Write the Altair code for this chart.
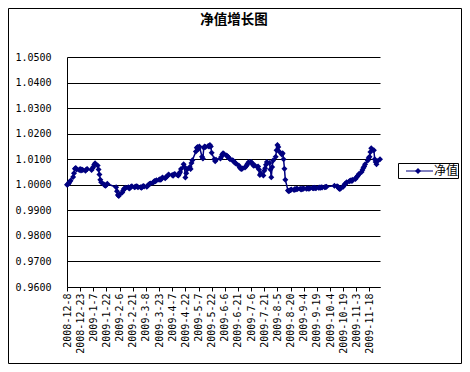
import altair as alt
import pandas as pd

title_text = "净值增长图"
series_name = "净值"

start_date = "2008-12-08"
end_date = "2009-11-30"
holidays = ["2009-01-01", "2009-01-02", "2009-01-26", "2009-01-27", "2009-01-28",
            "2009-01-29", "2009-01-30", "2009-04-06", "2009-05-01", "2009-05-28",
            "2009-05-29", "2009-10-01", "2009-10-02", "2009-10-05", "2009-10-06",
            "2009-10-07", "2009-10-08"]

nav_2008_12 = [1.0000, 1.0002, 1.0005, 1.0012, 1.0016, 1.0030, 1.0045, 1.0063, 1.0066, 1.0060,
               1.0058, 1.0062, 1.0056, 1.0060, 1.0058, 1.0055, 1.0060, 1.0062]
nav_2009_01 = [1.0058, 1.0065, 1.0070, 1.0078, 1.0084, 1.0075, 1.0060, 1.0040, 1.0020, 1.0010,
               1.0002, 0.9998, 0.9996, 1.0000, 1.0004]
nav_2009_02 = [0.9990, 0.9975, 0.9960, 0.9956, 0.9962, 0.9970, 0.9978, 0.9984, 0.9986, 0.9988,
               0.9990, 0.9985, 0.9988, 0.9992, 0.9994, 0.9990, 0.9992, 0.9994, 0.9993, 0.9990]
nav_2009_03 = [0.9990, 0.9988, 0.9992, 0.9995, 0.9993, 0.9992, 0.9996, 1.0000, 1.0003, 1.0005,
               1.0008, 1.0012, 1.0015, 1.0014, 1.0018, 1.0020, 1.0022, 1.0020, 1.0025, 1.0028,
               1.0026, 1.0030]
nav_2009_04 = [1.0032, 1.0036, 1.0040, 1.0038, 1.0035, 1.0040, 1.0042, 1.0038, 1.0036, 1.0043,
               1.0050, 1.0062, 1.0080, 1.0070, 1.0028, 1.0045, 1.0060, 1.0070, 1.0062, 1.0085,
               1.0096]
nav_2009_05 = [1.0130, 1.0145, 1.0148, 1.0140, 1.0150, 1.0110, 1.0103, 1.0145, 1.0150, 1.0148,
               1.0152, 1.0150, 1.0156, 1.0150, 1.0125, 1.0100, 1.0092, 1.0098]
nav_2009_06 = [1.0103, 1.0110, 1.0118, 1.0123, 1.0120, 1.0115, 1.0112, 1.0108, 1.0104, 1.0100,
               1.0096, 1.0092, 1.0088, 1.0085, 1.0082, 1.0075, 1.0068, 1.0064, 1.0062, 1.0064,
               1.0068, 1.0072]
nav_2009_07 = [1.0076, 1.0082, 1.0088, 1.0089, 1.0085, 1.0078, 1.0074, 1.0076, 1.0070, 1.0072,
               1.0060, 1.0038, 1.0045, 1.0036, 1.0055, 1.0065, 1.0078, 1.0089, 1.0085, 1.0060,
               1.0029, 1.0070, 1.0095]
nav_2009_08 = [1.0110, 1.0135, 1.0156, 1.0148, 1.0130, 1.0118, 1.0123, 1.0100, 1.0063, 1.0020,
               0.9978, 0.9975, 0.9978, 0.9980, 0.9982, 0.9980, 0.9983, 0.9982, 0.9984, 0.9983,
               0.9984]
nav_2009_09 = [0.9982, 0.9984, 0.9983, 0.9985, 0.9984, 0.9986, 0.9985, 0.9984, 0.9986, 0.9987,
               0.9986, 0.9988, 0.9987, 0.9986, 0.9988, 0.9989, 0.9988, 0.9990, 0.9989, 0.9990,
               0.9991, 0.9992]
nav_2009_10 = [0.9996, 0.9994, 0.9992, 0.9986, 0.9983, 0.9985, 0.9992, 0.9998, 1.0003, 1.0005,
               1.0010, 1.0014, 1.0016, 1.0018, 1.0015, 1.0020]
nav_2009_11 = [1.0023, 1.0028, 1.0032, 1.0036, 1.0042, 1.0050, 1.0058, 1.0066, 1.0072, 1.0080,
               1.0095, 1.0105, 1.0110, 1.0128, 1.0143, 1.0135, 1.0100, 1.0089, 1.0080, 1.0092,
               1.0100]

monthly = [("2008-12", nav_2008_12), ("2009-01", nav_2009_01), ("2009-02", nav_2009_02),
           ("2009-03", nav_2009_03), ("2009-04", nav_2009_04), ("2009-05", nav_2009_05),
           ("2009-06", nav_2009_06), ("2009-07", nav_2009_07), ("2009-08", nav_2009_08),
           ("2009-09", nav_2009_09), ("2009-10", nav_2009_10), ("2009-11", nav_2009_11)]

tick_labels = ["2008-12-8", "2008-12-23", "2009-1-7", "2009-1-22", "2009-2-6", "2009-2-21",
               "2009-3-8", "2009-3-23", "2009-4-7", "2009-4-22", "2009-5-7", "2009-5-22",
               "2009-6-6", "2009-6-21", "2009-7-6", "2009-7-21", "2009-8-5", "2009-8-20",
               "2009-9-4", "2009-9-19", "2009-10-4", "2009-10-19", "2009-11-3", "2009-11-18"]

y_ticks = [0.96, 0.97, 0.98, 0.99, 1.00, 1.01, 1.02, 1.03, 1.04, 1.05]


def ms(d):
    return int(pd.Timestamp(d).value // 10**6)


days = pd.bdate_range(start_date, end_date)
days = days[~days.isin(pd.to_datetime(holidays))]
rows = []
for month, vals in monthly:
    mdays = [d for d in days if d.strftime("%Y-%m") == month]
    assert len(mdays) == len(vals), (month, len(mdays), len(vals))
    for d, v in zip(mdays, vals):
        rows.append({"date": ms(d), "nav": v, "series": series_name})
df = pd.DataFrame(rows)

W, H = 313, 230
NAVY = "#000080"
MONO = "DejaVu Sans Mono"

x_enc = alt.X("date:T",
              scale=alt.Scale(type="utc", domain=[ms(start_date), ms(end_date)]),
              axis=alt.Axis(values=[ms(t) for t in tick_labels],
                            labelExpr="utcFormat(datum.value, '%Y-%-m-%-d')",
                            labelAngle=270, labelFont=MONO, labelFontSize=10,
                            labelColor="black", labelPadding=2, labelOverlap=False,
                            labelFlush=False, labelBound=False,
                            grid=False, ticks=True, tickSize=4, tickColor="black",
                            domainColor="black", title=None))
y_enc = alt.Y("nav:Q",
              scale=alt.Scale(domain=[0.96, 1.05], nice=False, zero=False),
              axis=alt.Axis(values=y_ticks, format=".4f", labelFont=MONO, labelFontSize=10,
                            labelColor="black", labelPadding=16, ticks=False,
                            grid=True, gridColor="black", gridOpacity=1, gridWidth=1,
                            domainColor="black", title=None))

line = alt.Chart(df).mark_line(color=NAVY, strokeWidth=1.5).encode(x=x_enc, y=y_enc)
pts = alt.Chart(df).mark_point(shape="diamond", filled=True, size=36, color=NAVY,
                               opacity=1).encode(x=x_enc, y=y_enc)

one = pd.DataFrame({"t": [title_text], "s": [series_name]})

title = alt.Chart(one).mark_text(font="Noto Sans CJK SC", fontSize=13.5, fontWeight="bold",
                                 color="black", align="center", baseline="middle").encode(
    text="t:N", x=alt.value(167), y=alt.value(-37))

border = alt.Chart(one).mark_rect(fillOpacity=0, stroke="black", strokeWidth=1).encode(
    x=alt.value(-58.5), x2=alt.value(394.5), y=alt.value(-48.5), y2=alt.value(306.5))

leg_box = alt.Chart(one).mark_rect(fill="white", stroke="black", strokeWidth=1).encode(
    x=alt.value(331.5), x2=alt.value(391.5), y=alt.value(106.5), y2=alt.value(121.5))
leg_line = alt.Chart(one).mark_rule(color=NAVY, strokeWidth=1).encode(
    x=alt.value(339), x2=alt.value(366), y=alt.value(114))
leg_pt = alt.Chart(one).mark_point(shape="diamond", filled=True, size=36, color=NAVY,
                                   opacity=1).encode(x=alt.value(351), y=alt.value(114))
leg_text = alt.Chart(one).mark_text(font="Noto Sans CJK SC", fontSize=12, color="black",
                                    align="left", baseline="middle").encode(
    text="s:N", x=alt.value(367), y=alt.value(114))

chart = alt.layer(line, pts, title, border, leg_box, leg_line, leg_pt, leg_text).properties(
    width=W, height=H,
    autosize=alt.AutoSizeParams(type="none"),
    padding={"left": 59, "top": 49, "right": 82, "bottom": 77},
    background="white",
).configure_view(stroke=None)

chart.save("out.html", embed_options={"renderer": "svg", "actions": False})
